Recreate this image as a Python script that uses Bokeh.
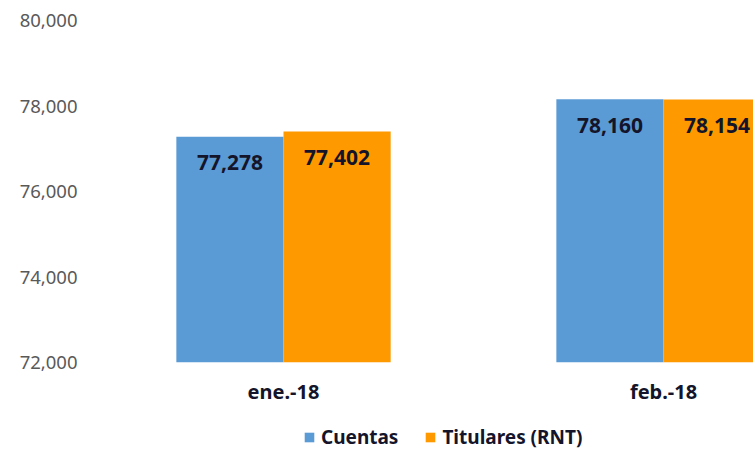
from bokeh.plotting import figure
from bokeh.layouts import column
from bokeh.models import Range1d, FixedTicker, NumeralTickFormatter, Legend, LegendItem, ColumnDataSource
from bokeh.core.properties import value
from bokeh.embed import file_html
from bokeh.resources import INLINE

categories = ["ene.-18", "feb.-18"]
cuentas = [77278, 78160]
titulares = [77402, 78154]
y_ticks = [72000, 74000, 76000, 78000, 80000]
series_names = ["Cuentas", "Titulares (RNT)"]

BLUE = "#5B9BD5"
ORANGE = "#FF9900"
FONT = "Noto Sans"
DARK = "#14142b"

xs = list(range(len(categories)))
bw = 0.282
half = bw / 2

src_c = ColumnDataSource(dict(x=[i - half for i in xs], top=cuentas,
                              lab=[f"{v:,}" for v in cuentas]))
src_t = ColumnDataSource(dict(x=[i + half for i in xs], top=titulares,
                              lab=[f"{v:,}" for v in titulares]))

p = figure(width=753, height=410, output_backend="svg", toolbar_location=None,
           x_range=Range1d(-0.5, 1.2368), y_range=Range1d(72000, 80000),
           min_border_left=93, min_border_top=20, min_border_right=0, min_border_bottom=48)
p.outline_line_color = None
p.xgrid.grid_line_color = None
p.ygrid.grid_line_color = None
p.background_fill_color = "white"

p.vbar(x="x", top="top", bottom=72000, width=bw, source=src_c, fill_color=BLUE, line_color=None)
p.vbar(x="x", top="top", bottom=72000, width=bw, source=src_t, fill_color=ORANGE, line_color=None)

for src in (src_c, src_t):
    p.text(x="x", y="top", text="lab", source=src, text_align="center", text_baseline="middle",
           y_offset=26, text_font=value(FONT), text_font_style="bold", text_font_size="21px",
           text_color=DARK)

p.yaxis.ticker = FixedTicker(ticks=y_ticks)
p.yaxis.formatter = NumeralTickFormatter(format="0,0")
p.yaxis.axis_line_color = None
p.yaxis.major_tick_line_color = None
p.yaxis.minor_tick_line_color = None
p.yaxis.major_tick_out = 0
p.yaxis.major_label_standoff = 16
p.yaxis.major_label_text_font = FONT
p.yaxis.major_label_text_font_size = "18.5px"
p.yaxis.major_label_text_color = "#595959"

p.xaxis.ticker = FixedTicker(ticks=xs)
p.xaxis.major_label_overrides = {i: c for i, c in zip(xs, categories)}
p.xaxis.axis_line_color = None
p.xaxis.major_tick_line_color = None
p.xaxis.minor_tick_line_color = None
p.xaxis.major_tick_out = 0
p.xaxis.major_label_standoff = 15
p.xaxis.major_label_text_font = FONT
p.xaxis.major_label_text_font_style = "bold"
p.xaxis.major_label_text_font_size = "20px"
p.xaxis.major_label_text_color = DARK

# legend strip below the chart (proxy glyphs lie outside its visible range)
lg = figure(width=753, height=41, output_backend="svg", toolbar_location=None,
            x_range=Range1d(0, 1), y_range=Range1d(0, 1),
            min_border_left=0, min_border_right=0, min_border_top=0, min_border_bottom=0)
lg.axis.visible = False
lg.grid.visible = False
lg.outline_line_color = None
proxy = dict(x=[-5], top=[-5])
lc = lg.vbar(x="x", top="top", bottom=-6, width=0.1, source=ColumnDataSource(proxy),
             fill_color=BLUE, line_color=None)
lt = lg.vbar(x="x", top="top", bottom=-6, width=0.1, source=ColumnDataSource(proxy),
             fill_color=ORANGE, line_color=None)

legend = Legend(items=[LegendItem(label=series_names[0], renderers=[lc]),
                       LegendItem(label=series_names[1], renderers=[lt])],
                orientation="horizontal", location=(210, 1),
                glyph_width=12, glyph_height=12, label_standoff=6, spacing=26,
                padding=2, margin=0, border_line_color=None, background_fill_alpha=0,
                label_text_font=FONT, label_text_font_style="bold", label_text_font_size="19px",
                label_text_color=DARK)
lg.add_layout(legend, "center")

layout = column(p, lg, spacing=0)
open("out.html", "w").write(file_html(layout, INLINE))
